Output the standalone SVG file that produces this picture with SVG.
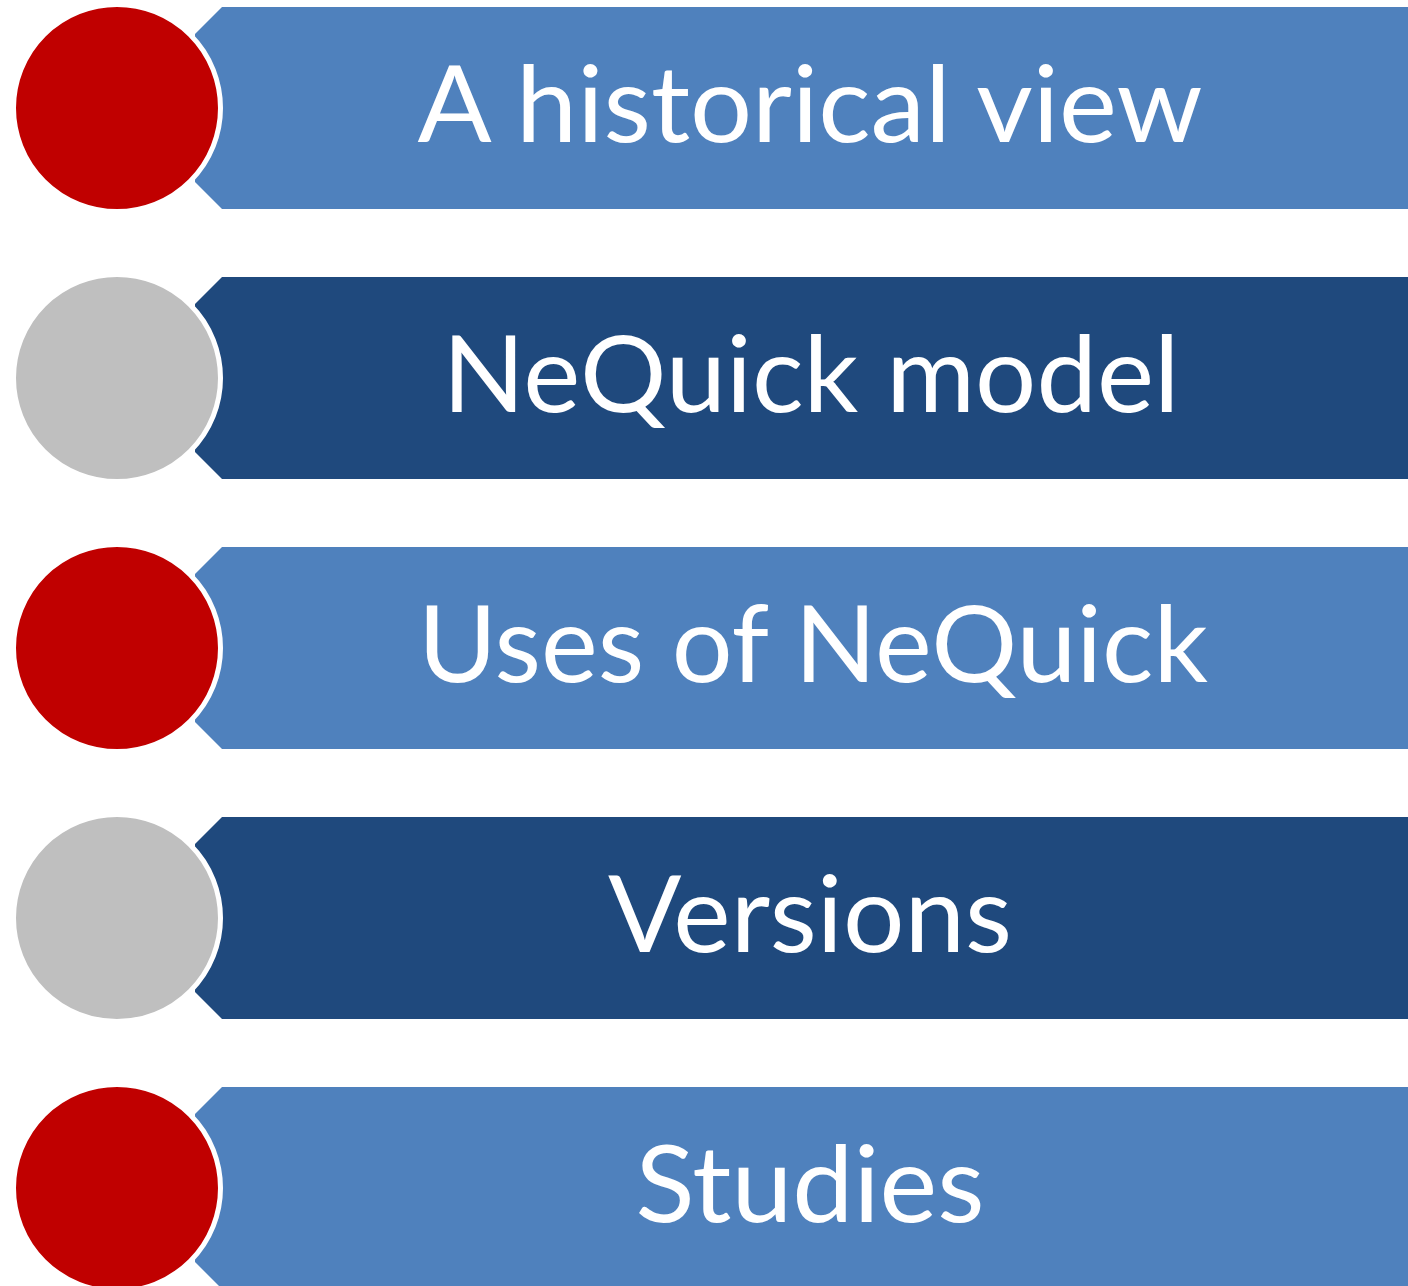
<svg xmlns="http://www.w3.org/2000/svg" width="1408" height="1286" viewBox="0 0 1408 1286">
  <style>
    .band-light { fill: #4F81BD; }
    .band-dark { fill: #1F497D; }
    .dot-red { fill: #C00000; stroke: #FFFFFF; stroke-width: 5; }
    .dot-grey { fill: #BFBFBF; stroke: #FFFFFF; stroke-width: 5; }
    .label { font-family: Lato, "Open Sans", "Liberation Sans", sans-serif; font-size: 107px; fill: #FFFFFF; text-anchor: middle; }
  </style>
  <defs>
    <!-- chamfered banner, 202 tall, top-left at local origin -->
    <path id="banner" d="M222,0 H1408 V202 H222 L195,175 V27 Z"/>
  </defs>
  <rect width="1408" height="1286" fill="#FFFFFF"/>

  <g id="item-1">
    <use href="#banner" y="7" class="band-light"/>
    <circle cx="117" cy="108" r="103.5" class="dot-red"/>
    <text x="810" y="142" class="label" textLength="785" lengthAdjust="spacingAndGlyphs">A historical view</text>
  </g>

  <g id="item-2">
    <use href="#banner" y="277" class="band-dark"/>
    <circle cx="117" cy="378" r="103.5" class="dot-grey"/>
    <text x="811" y="412" class="label" textLength="737" lengthAdjust="spacingAndGlyphs">NeQuick model</text>
  </g>

  <g id="item-3">
    <use href="#banner" y="547" class="band-light"/>
    <circle cx="117" cy="648" r="103.5" class="dot-red"/>
    <text x="813" y="682" class="label" textLength="790" lengthAdjust="spacingAndGlyphs">Uses of NeQuick</text>
  </g>

  <g id="item-4">
    <use href="#banner" y="817" class="band-dark"/>
    <circle cx="117" cy="918" r="103.5" class="dot-grey"/>
    <text x="810" y="952" class="label" textLength="404" lengthAdjust="spacingAndGlyphs">Versions</text>
  </g>

  <g id="item-5">
    <use href="#banner" y="1087" class="band-light"/>
    <circle cx="117" cy="1188" r="103.5" class="dot-red"/>
    <text x="810" y="1222" class="label" textLength="349" lengthAdjust="spacingAndGlyphs">Studies</text>
  </g>

  <g id="connectors"/>
</svg>
